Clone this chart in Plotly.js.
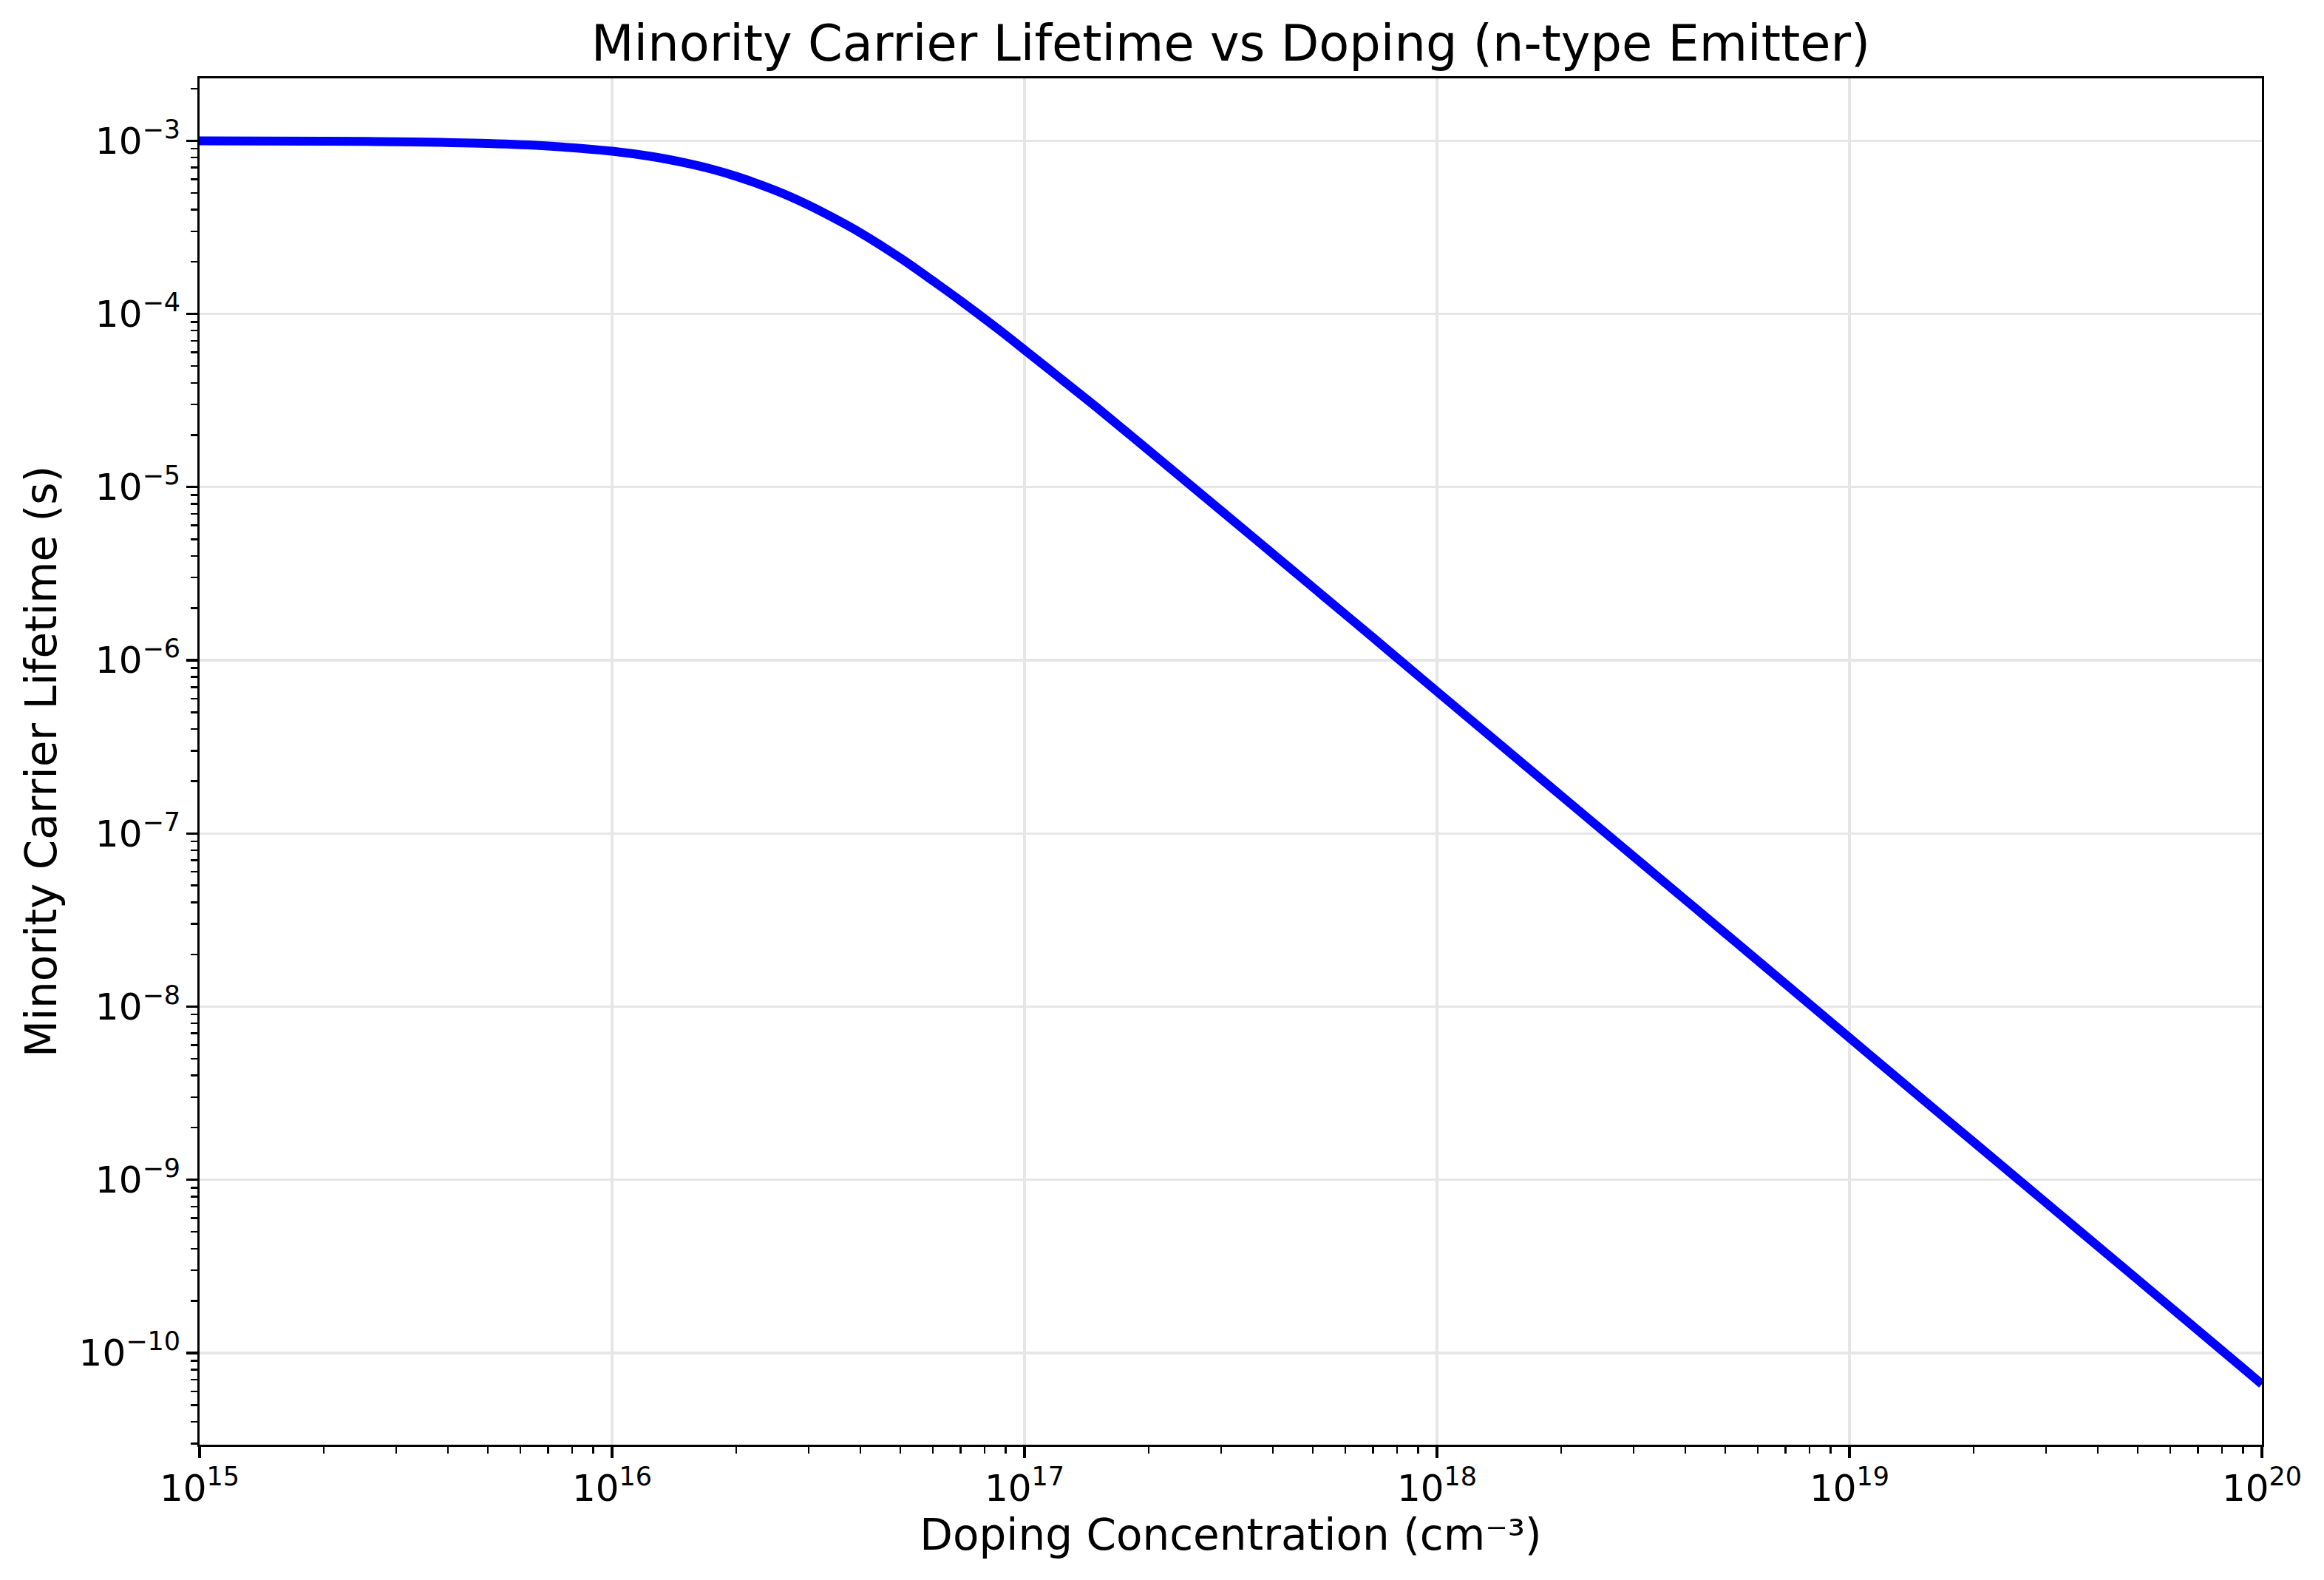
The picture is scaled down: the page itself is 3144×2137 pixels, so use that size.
<!DOCTYPE html>
<html>
<head>
<meta charset="utf-8">
<script src="https://cdn.plot.ly/plotly-3.0.1.min.js"></script>
<style>
  html, body { margin: 0; padding: 0; background: #fff; }
  #plot { width: 3144px; height: 2137px; }
</style>
</head>
<body>
<div id="plot"></div>
<script>
// doping concentration (cm^-3) and lifetime (s)
const doping = [1e15, 2e15, 3e15, 5e15, 7e15, 1e16, 1.25e16, 1.5e16, 1.75e16, 2e16, 2.5e16, 3e16, 3.5e16, 4e16, 5e16, 6e16, 7e16, 8.5e16,
  1e17, 1.25e17, 1.5e17, 2e17, 3e17, 5e17, 7e17, 1e18, 2e18, 5e18, 1e19, 2e19, 5e19, 1e20];
const lifetime = [9.98e-4, 9.94e-4, 9.86e-4, 9.64e-4, 9.31e-4, 8.7e-4, 8.1e-4, 7.46e-4, 6.84e-4, 6.23e-4, 5.14e-4, 4.24e-4, 3.51e-4, 2.94e-4, 2.1e-4, 1.55e-4, 1.19e-4, 8.4e-5,
  6.2e-5, 4.06e-5, 2.87e-5, 1.63e-5, 7.3e-6, 2.64e-6, 1.35e-6, 6.6e-7, 1.65e-7, 2.65e-8, 6.6e-9, 1.65e-9, 2.65e-10, 6.6e-11];

const chartTitle = "Minority Carrier Lifetime vs Doping (n-type Emitter)";
const xLabel = "Doping Concentration (cm⁻³)";
const yLabel = "Minority Carrier Lifetime (s)";

const font = "DejaVu Sans, Liberation Sans, sans-serif";

const trace = {
  x: doping,
  y: lifetime,
  mode: "lines",
  type: "scatter",
  line: { color: "#0000ff", width: 12, shape: "spline", smoothing: 1 },
  showlegend: false
};

const axisCommon = {
  type: "log",
  showline: true,
  linecolor: "#000",
  linewidth: 3.3,
  mirror: true,
  ticks: "outside",
  ticklen: 14.6,
  tickwidth: 3.3,
  tickcolor: "#000",
  dtick: 1,
  exponentformat: "power",
  tickfont: { family: font, size: 40, color: "#000" },
  showgrid: true,
  gridcolor: "#e6e6e6",
  gridwidth: 3.3,
  zeroline: false,
  minor: { ticks: "outside", ticklen: 8.3, tickwidth: 2.5, tickcolor: "#000", dtick: "D1", showgrid: false },
  automargin: false
};

const layout = {
  width: 3144,
  height: 2137,
  paper_bgcolor: "#fff",
  plot_bgcolor: "#fff",
  margin: { l: 270, r: 84, t: 106, b: 183 },
  title: {
    text: chartTitle,
    font: { family: font, size: 67, color: "#000" },
    x: 0.5, xref: "paper",
    y: 1, yref: "paper", yanchor: "bottom",
    pad: { b: 24 }
  },
  xaxis: Object.assign({}, axisCommon, {
    range: [15, 20],
    title: { text: xLabel, font: { family: font, size: 58, color: "#000" }, standoff: 12 }
  }),
  yaxis: Object.assign({}, axisCommon, {
    range: [-10.53, -2.64],
    title: { text: yLabel, font: { family: font, size: 58, color: "#000" }, standoff: 12 }
  })
};

Plotly.newPlot("plot", [trace], layout, { staticPlot: true });
</script>
</body>
</html>
